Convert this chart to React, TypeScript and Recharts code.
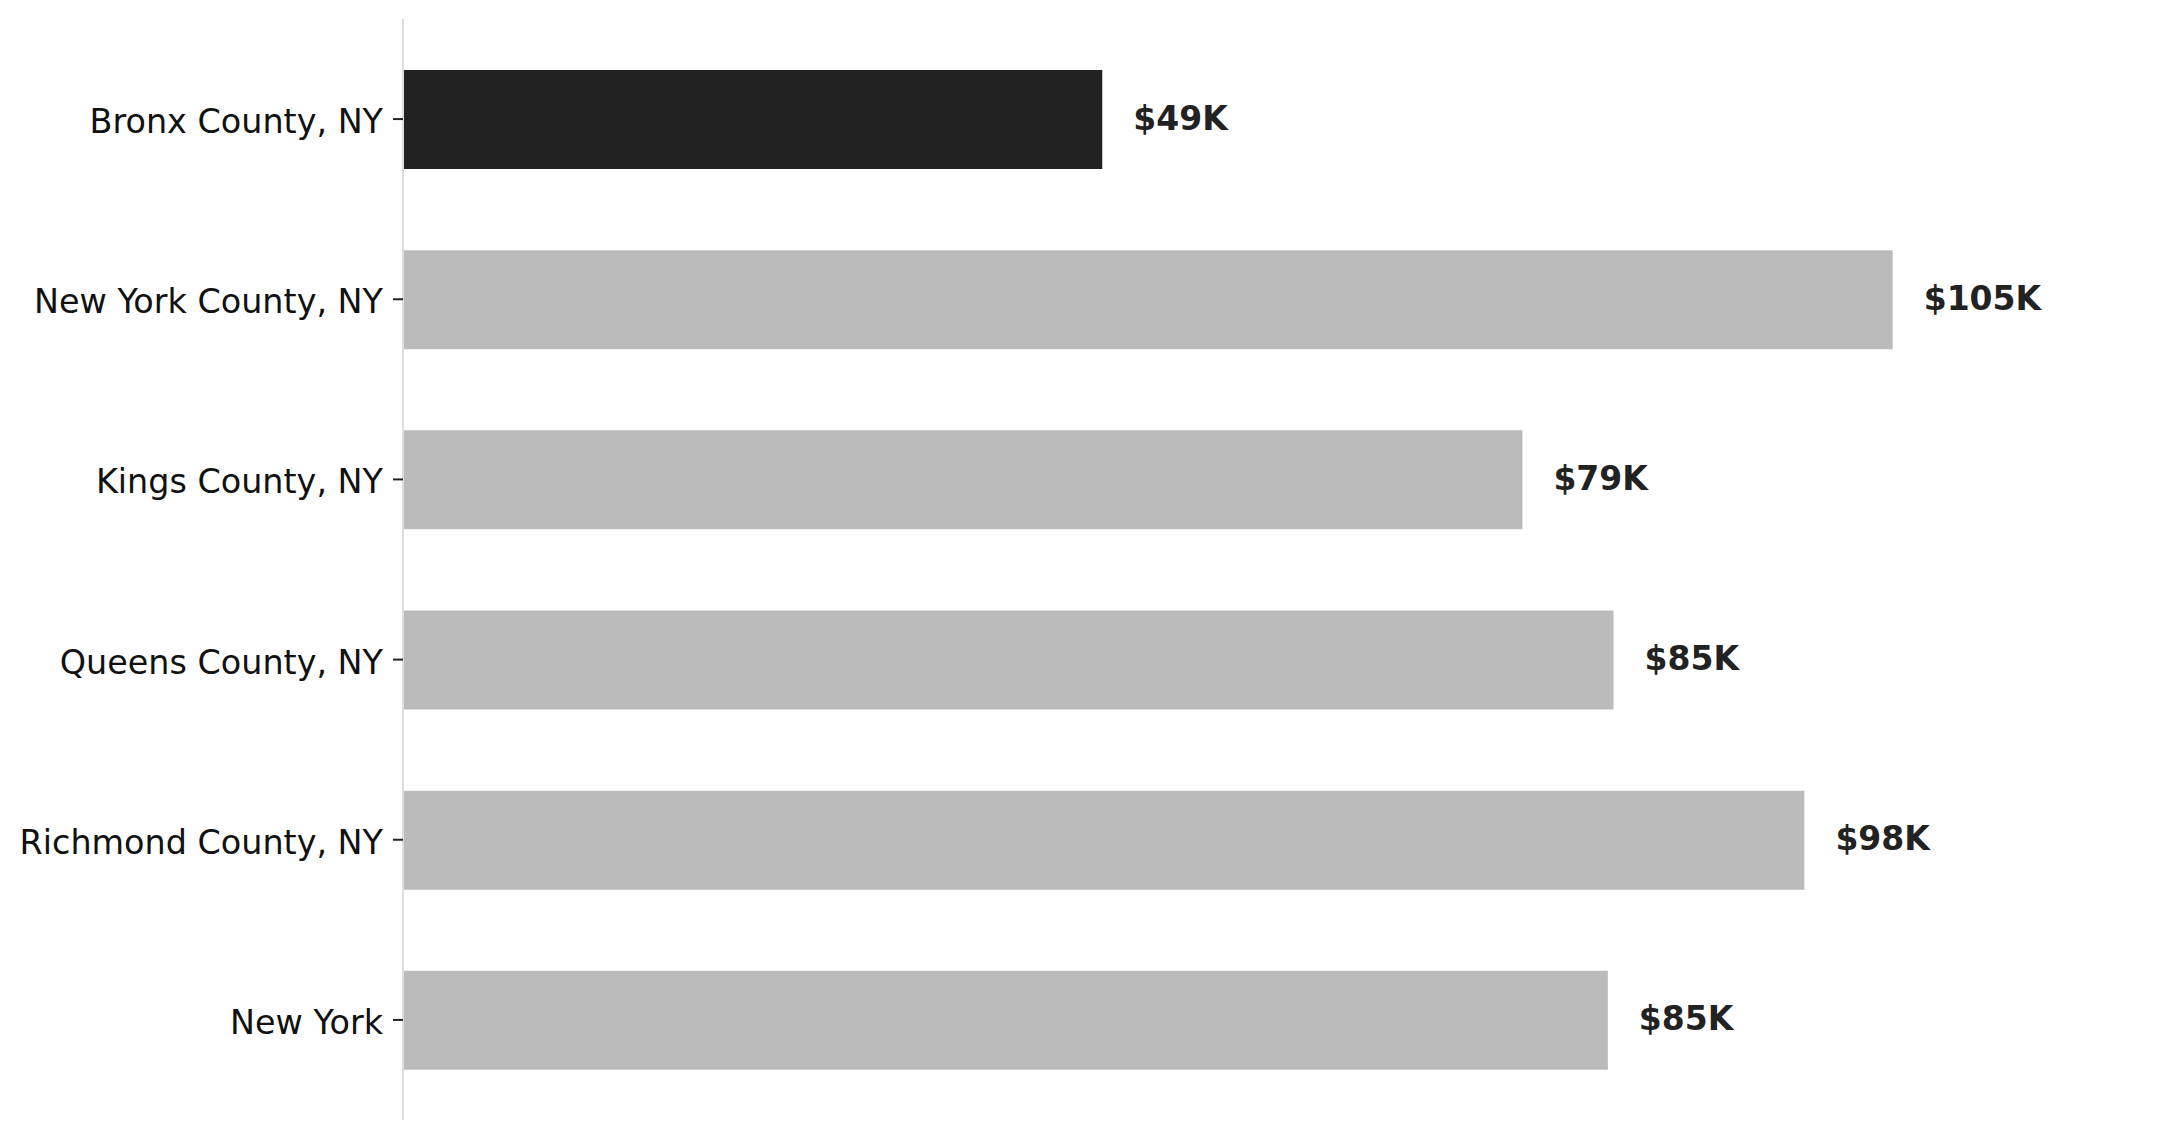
import React from "react";
import { BarChart, Bar, XAxis, YAxis, Cell, LabelList } from "recharts";

const categories = [
  "Bronx County, NY",
  "New York County, NY",
  "Kings County, NY",
  "Queens County, NY",
  "Richmond County, NY",
  "New York",
];
const medianIncomeK = [49.1, 104.6, 78.6, 85.0, 98.4, 84.6];
const highlighted = "Bronx County, NY";
const xDomain = [0, 120];

const data = categories.map((name, i) => ({ name, value: medianIncomeK[i] }));

const FONT = "'DejaVu Sans', sans-serif";

const ValueLabel = (props: any) => {
  const { x, y, width, height, value } = props;
  return (
    <text
      x={Number(x) + Number(width) + 31}
      y={Number(y) + Number(height) / 2 - 1.5}
      textAnchor="start"
      dominantBaseline="central"
      fontFamily={FONT}
      fontWeight="bold"
      fontSize={33}
      fill="#222222"
    >
      {`$${Math.round(Number(value))}K`}
    </text>
  );
};

const CategoryTick = (props: any) => {
  const { x, y, payload } = props;
  return (
    <text
      x={Number(x)}
      y={Number(y) + 2.5}
      textAnchor="end"
      dominantBaseline="central"
      fontFamily={FONT}
      fontSize={33.4}
      fill="#111111"
    >
      {payload.value}
    </text>
  );
};

export default function App() {
  return (
    <div style={{ position: "absolute", left: 0, top: 0, background: "#fff" }}>
      <BarChart
        width={2181}
        height={1139}
        data={data}
        layout="vertical"
        margin={{ top: 19, right: 69, bottom: 19, left: 0 }}
        style={{ fontFamily: FONT }}
      >
        <XAxis type="number" domain={xDomain} hide />
        <YAxis
          type="category"
          dataKey="name"
          width={403}
          padding={{ top: 10, bottom: 10 }}
          axisLine={{ stroke: "#dddddd", strokeWidth: 2 }}
          tickLine={{ stroke: "#222222", strokeWidth: 2 }}
          tickSize={10}
          tickMargin={10}
          interval={0}
          tick={CategoryTick}
        />
        <Bar dataKey="value" barSize={99} isAnimationActive={false}>
          {data.map((d) => (
            <Cell key={d.name} fill={d.name === highlighted ? "#222222" : "#bbbbbb"} />
          ))}
          <LabelList dataKey="value" content={ValueLabel} />
        </Bar>
      </BarChart>
    </div>
  );
}
